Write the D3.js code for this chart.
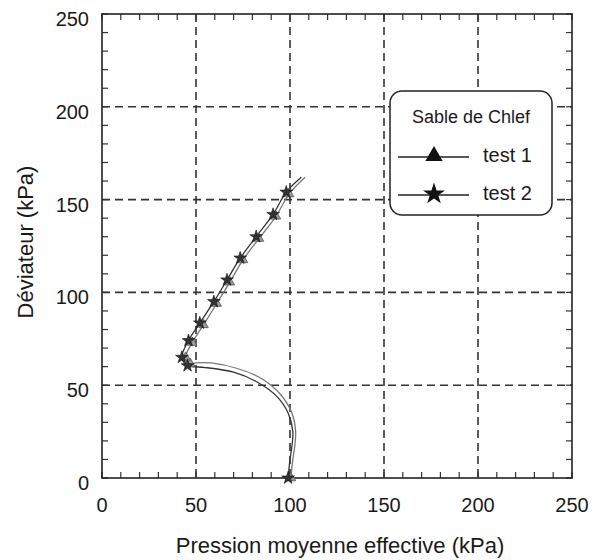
<!DOCTYPE html>
<html>
<head>
<meta charset="utf-8">
<script src="https://cdn.jsdelivr.net/npm/d3@7"></script>
<style>
  body { margin: 0; background: #fff; }
  text { font-family: "Liberation Sans", Arial, sans-serif; }
</style>
</head>
<body>
<script>
(function() {
  // stress paths (kPa)
  var test1P = [100.5, 101.5, 102.5, 103, 101, 95, 85, 72, 58, 50, 47, 44.5, 48, 54, 61, 68, 75, 83.5, 92.5, 99.5, 108];
  var test1Q = [0, 10, 17, 25, 35, 45, 53.5, 59, 62, 62, 61.5, 65, 73, 82.5, 94, 105.5, 117.5, 129, 141, 153, 162];
  var test2P = [99, 100, 101, 101.5, 99, 93, 82, 70, 55, 48, 45.5, 42.5, 46, 52, 59.5, 66.5, 73.5, 82, 91, 98, 106];
  var test2Q = [0, 10, 17, 25, 35, 44, 52, 57, 59.5, 60, 60.5, 65, 74, 83.5, 95, 106.7, 118.5, 130, 142, 154, 162];
  // indices of points carrying a marker
  var markIdx = [0, 10, 11, 12, 13, 14, 15, 16, 17, 18, 19];

  var xTicks = [0, 50, 100, 150, 200, 250];
  var yTicks = [0, 50, 100, 150, 200, 250];
  var gridVals = [50, 100, 150, 200];
  var seriesNames = ["test 1", "test 2"];
  var legendTitle = "Sable de Chlef";

  var w = 595, h = 560;
  var left = 102, right = 572, top = 14, bottom = 478;

  var svg = d3.select("body").append("svg")
    .attr("width", w)
    .attr("height", h);

  var x = d3.scaleLinear().domain([0, 250]).range([left, right]);
  var y = d3.scaleLinear().domain([0, 250]).range([bottom, top]);

  // dashed grid
  svg.selectAll("line.gx").data(gridVals).enter().append("line")
    .attr("x1", function(d) { return x(d); }).attr("x2", function(d) { return x(d); })
    .attr("y1", top).attr("y2", bottom)
    .attr("stroke", "#333").attr("stroke-width", 1.6).attr("stroke-dasharray", "8,5");
  svg.selectAll("line.gy").data(gridVals).enter().append("line")
    .attr("y1", function(d) { return y(d); }).attr("y2", function(d) { return y(d); })
    .attr("x1", left).attr("x2", right)
    .attr("stroke", "#333").attr("stroke-width", 1.6).attr("stroke-dasharray", "8,5");

  // inward ticks on all four sides
  var minor = d3.range(0, 251, 10);
  var tk = svg.append("g").attr("stroke", "#333").attr("stroke-width", 1.2);
  minor.forEach(function(v) {
    tk.append("line").attr("x1", x(v)).attr("x2", x(v)).attr("y1", bottom).attr("y2", bottom - 6);
    tk.append("line").attr("x1", x(v)).attr("x2", x(v)).attr("y1", top).attr("y2", top + 6);
    tk.append("line").attr("y1", y(v)).attr("y2", y(v)).attr("x1", left).attr("x2", left + 6);
    tk.append("line").attr("y1", y(v)).attr("y2", y(v)).attr("x1", right).attr("x2", right - 6);
  });

  // frame
  svg.append("rect")
    .attr("x", left).attr("y", top)
    .attr("width", right - left).attr("height", bottom - top)
    .attr("fill", "none").attr("stroke", "#222").attr("stroke-width", 1.6);

  // tick labels
  svg.selectAll("text.xt").data(xTicks).enter().append("text")
    .attr("x", function(d) { return x(d); })
    .attr("y", 512)
    .attr("text-anchor", "middle")
    .attr("font-size", "20px").attr("fill", "#1a1a1a")
    .text(function(d) { return d; });
  svg.selectAll("text.yt").data(yTicks).enter().append("text")
    .attr("x", 89)
    .attr("y", function(d) { return y(d) + 12; })
    .attr("text-anchor", "end")
    .attr("font-size", "20px").attr("fill", "#1a1a1a")
    .text(function(d) { return d; });

  // axis titles
  svg.append("text")
    .attr("x", 340).attr("y", 553)
    .attr("text-anchor", "middle")
    .attr("font-size", "22px").attr("fill", "#1a1a1a")
    .text("Pression moyenne effective (kPa)");
  svg.append("text")
    .attr("transform", "translate(33," + 242 + ") rotate(-90)")
    .attr("text-anchor", "middle")
    .attr("font-size", "22px").attr("fill", "#1a1a1a")
    .text("Déviateur (kPa)");

  var line = d3.line().curve(d3.curveCatmullRom)
    .x(function(d) { return x(d[0]); })
    .y(function(d) { return y(d[1]); });

  var pts1 = test1P.map(function(p, i) { return [p, test1Q[i]]; });
  var pts2 = test2P.map(function(p, i) { return [p, test2Q[i]]; });

  svg.append("path").datum(pts1).attr("d", line)
    .attr("fill", "none").attr("stroke", "#777").attr("stroke-width", 1.3);
  svg.append("path").datum(pts2).attr("d", line)
    .attr("fill", "none").attr("stroke", "#333").attr("stroke-width", 1.3);

  var tri = d3.symbol().type(d3.symbolTriangle).size(40);
  var star = d3.symbol().type(d3.symbolStar).size(50);

  svg.selectAll("path.m1").data(markIdx).enter().append("path")
    .attr("d", tri)
    .attr("transform", function(i) { return "translate(" + x(test1P[i]) + "," + y(test1Q[i]) + ")"; })
    .attr("fill", "#999").attr("stroke", "#555").attr("stroke-width", 0.8);
  svg.selectAll("path.m2").data(markIdx).enter().append("path")
    .attr("d", star)
    .attr("transform", function(i) { return "translate(" + x(test2P[i]) + "," + y(test2Q[i]) + ")"; })
    .attr("fill", "#333").attr("stroke", "#111").attr("stroke-width", 0.6);

  // legend
  var lg = svg.append("g");
  lg.append("rect")
    .attr("x", 390).attr("y", 91).attr("width", 162).attr("height", 124)
    .attr("rx", 12).attr("ry", 12)
    .attr("fill", "#fff").attr("stroke", "#222").attr("stroke-width", 1.5);
  lg.append("text")
    .attr("x", 471).attr("y", 123)
    .attr("text-anchor", "middle")
    .attr("font-size", "18px").attr("fill", "#1a1a1a")
    .text(legendTitle);
  var rows = [
    { name: seriesNames[0], sym: d3.symbol().type(d3.symbolTriangle).size(130), y: 157 },
    { name: seriesNames[1], sym: d3.symbol().type(d3.symbolStar).size(150), y: 195 }
  ];
  rows.forEach(function(r) {
    lg.append("line").attr("x1", 398).attr("x2", 469).attr("y1", r.y).attr("y2", r.y)
      .attr("stroke", "#222").attr("stroke-width", 1.5);
    lg.append("path").attr("d", r.sym)
      .attr("transform", "translate(434," + (r.y - 1) + ")")
      .attr("fill", "#111");
    lg.append("text")
      .attr("x", 483).attr("y", r.y + 5)
      .attr("font-size", "20px").attr("fill", "#1a1a1a")
      .text(r.name);
  });
})();
</script>
</body>
</html>
